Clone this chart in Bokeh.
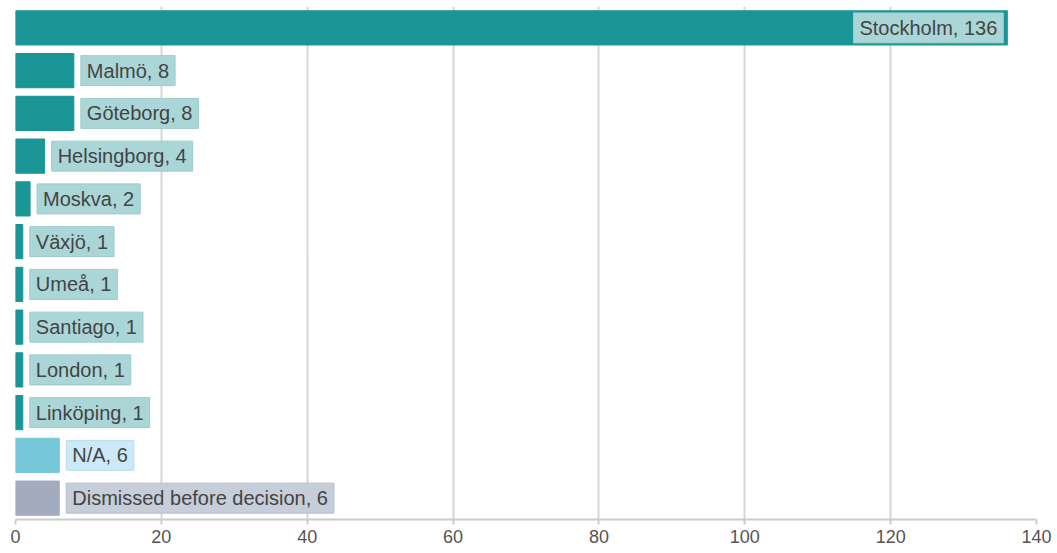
from bokeh.plotting import figure
from bokeh.models import ColumnDataSource, FactorRange, Range1d, FixedTicker
from bokeh.core.properties import value
from bokeh.embed import file_html
from bokeh.resources import INLINE

cities = ["Stockholm", "Malmö", "Göteborg", "Helsingborg", "Moskva", "Växjö",
          "Umeå", "Santiago", "London", "Linköping", "N/A", "Dismissed before decision"]
counts = [136, 8, 8, 4, 2, 1, 1, 1, 1, 1, 6, 6]
bar_colors = ["#1a9696"] * 10 + ["#76c8d9", "#a3abbf"]
box_colors = ["#abd6d7"] * 10 + ["#cce9f8", "#c5ced9"]
box_borders = ["#9ccbcc"] * 10 + ["#b9dcee", "#b5bfcc"]
ticks = [0, 20, 40, 60, 80, 100, 120, 140]

labels = [f"{c}, {n}" for c, n in zip(cities, counts)]

p = figure(width=1057, height=553, output_backend="svg", toolbar_location=None,
           y_range=FactorRange(*reversed(cities), range_padding=0),
           x_range=Range1d(0, 140),
           min_border_left=15, min_border_right=21, min_border_top=6, min_border_bottom=34)
p.outline_line_color = None
p.background_fill_color = "white"

src = ColumnDataSource(dict(y=cities, x=counts, c=bar_colors))
p.hbar(y="y", right="x", left=0, height=0.8, color="c", source=src)

# the long first bar carries its label inside; the rest sit to the right of their bars
inside = ColumnDataSource(dict(y=cities[:1], x=counts[:1], lab=labels[:1],
                               bg=box_colors[:1], bd=box_borders[:1]))
outside = ColumnDataSource(dict(y=cities[1:], x=counts[1:], lab=labels[1:],
                                bg=box_colors[1:], bd=box_borders[1:]))

for s, align, off in [(inside, "right", -4), (outside, "left", 7)]:
    p.text(x="x", y="y", text="lab", source=s, x_offset=off,
           text_align=align, text_baseline="middle",
           text_font=value("Liberation Sans"), text_font_size="20px",
           text_color="#444444", background_fill_color="bg",
           border_line_color="bd", border_line_width=1,
           padding=dict(left=6, right=6, top=4, bottom=4))

p.xaxis.ticker = FixedTicker(ticks=ticks)
p.xaxis.axis_line_color = "#cccccc"
p.xaxis.axis_line_width = 2
p.xaxis.major_tick_line_color = "#cccccc"
p.xaxis.major_tick_line_width = 2
p.xaxis.major_tick_in = 0
p.xaxis.major_tick_out = 5
p.xaxis.minor_tick_line_color = None
p.xaxis.major_label_text_font = "Liberation Sans"
p.xaxis.major_label_text_font_size = "18px"
p.xaxis.major_label_text_color = "#555555"
p.xaxis.major_label_standoff = 5

p.yaxis.visible = False

p.xgrid.ticker = FixedTicker(ticks=ticks)
p.xgrid.grid_line_color = "#d6d6d6"
p.xgrid.grid_line_width = 2
p.ygrid.grid_line_color = None

open("out.html", "w").write(file_html(p, INLINE))
